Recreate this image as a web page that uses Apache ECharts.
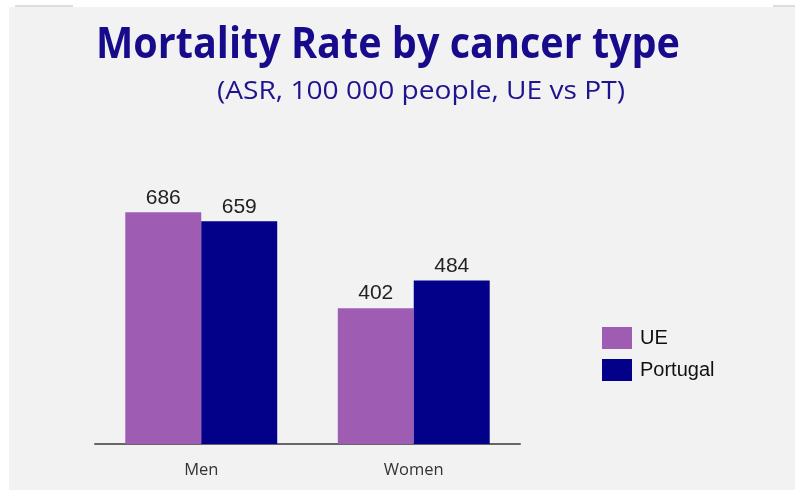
<!DOCTYPE html>
<html>
<head>
<meta charset="utf-8">
<script src="https://cdn.jsdelivr.net/npm/echarts@6/dist/echarts.min.js"></script>
<style>
html,body{margin:0;padding:0;background:#fff;}
#main{width:795px;height:490px;}
</style>
</head>
<body>
<div id="main"></div>
<script>
const titleText = "Mortality Rate by cancer type";
const subtitleText = "(ASR, 100 000 people, UE vs PT)";
const categories = ["Men", "Women"];
const seriesNames = ["UE", "Portugal"];
const ueValues = [686, 402];
const ptValues = [659, 484];

const TITLE_FONT = 'bold 43px "Open Sans"';
const SUB_FONT = '26px "Open Sans"';
function measure(font, text) {
  const c = document.createElement('canvas').getContext('2d');
  c.font = font;
  return c.measureText(text).width;
}
const titleScale = 584 / measure(TITLE_FONT, titleText);
const subScale = 408 / measure(SUB_FONT, subtitleText);

const chart = echarts.init(document.getElementById('main'), null, {renderer: 'canvas'});
const labelStyle = {
  show: true, position: 'top', distance: 4,
  fontFamily: '"Liberation Sans", Arial, sans-serif', fontSize: 21, color: '#222'
};
chart.setOption({
  backgroundColor: '#ffffff',
  animation: false,
  graphic: [
    {type: 'rect', z: -10, shape: {x: 9, y: 7, width: 786, height: 483}, style: {fill: '#f2f2f2'}, silent: true},
    {type: 'rect', z: -9, shape: {x: 15, y: 5, width: 58, height: 2}, style: {fill: '#dddddd'}, silent: true},
    {type: 'rect', z: -9, shape: {x: 773, y: 5, width: 22, height: 2}, style: {fill: '#dddddd'}, silent: true},
    {type: 'text', x: 96, y: 46, scaleX: titleScale, scaleY: 1,
     style: {text: titleText, font: TITLE_FONT, fill: '#170b8c', align: 'left', verticalAlign: 'middle'}},
    {type: 'text', x: 217, y: 92, scaleX: subScale, scaleY: 1,
     style: {text: subtitleText, font: SUB_FONT, fill: '#1e1490', align: 'left', verticalAlign: 'middle'}}
  ],
  legend: {
    orient: 'vertical', left: 597, top: 322,
    itemWidth: 30, itemHeight: 22, itemGap: 10, icon: 'rect',
    textStyle: {fontFamily: '"Liberation Sans", Arial, sans-serif', fontSize: 20, color: '#111', padding: [0,0,0,3]},
    data: seriesNames
  },
  grid: {left: 95, right: 275, top: 207.5, bottom: 46, containLabel: false},
  xAxis: {
    type: 'category', data: categories,
    axisLine: {lineStyle: {color: '#666', width: 2}},
    axisTick: {show: false},
    axisLabel: {fontFamily: '"Open Sans", sans-serif', fontSize: 16.5, color: '#333', margin: 18}
  },
  yAxis: {type: 'value', min: 0, max: 700, show: false, splitLine: {show: false}},
  series: [
    {name: seriesNames[0], type: 'bar', data: ueValues, barGap: '0%', barCategoryGap: '28.5%',
     itemStyle: {color: '#9e5db3'}, label: labelStyle},
    {name: seriesNames[1], type: 'bar', data: ptValues, barGap: '0%', barCategoryGap: '28.5%',
     itemStyle: {color: '#03008a'}, label: labelStyle}
  ]
});
</script>
</body>
</html>
